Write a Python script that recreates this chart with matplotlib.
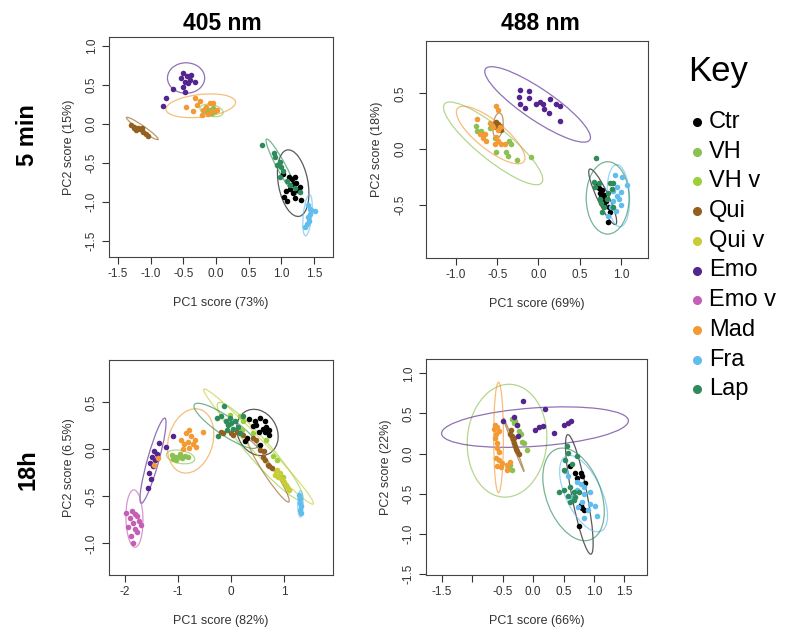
import matplotlib
matplotlib.use("Agg")
import matplotlib.pyplot as plt
from matplotlib.patches import Ellipse
from matplotlib.lines import Line2D

plt.rcParams["font.family"] = ["Liberation Sans", "DejaVu Sans"]

# groups and colours (legend order)
GROUPS = ["Ctr", "VH", "VH v", "Qui", "Qui v", "Emo", "Emo v", "Mad", "Fra", "Lap"]
COLORS = ["#000000", "#8cc152", "#9ccf3c", "#94601f", "#c9cd35",
          "#54258e", "#c45fb6", "#f39a35", "#62bdef", "#2e8b5c"]

# PC scores: group -> [(PC1, PC2), ...]
P405_5MIN = {
    "Emo": [(-0.50, 0.65), (-0.53, 0.59), (-0.45, 0.61), (-0.48, 0.54), (-0.40, 0.56),
            (-0.33, 0.54), (-0.38, 0.63), (-0.51, 0.47), (-0.48, 0.40), (-0.66, 0.44),
            (-0.76, 0.33), (-0.81, 0.23), (-0.43, 0.52)],
    "Mad": [(-0.46, 0.21), (-0.35, 0.16), (-0.30, 0.24), (-0.25, 0.29), (-0.20, 0.18),
            (-0.15, 0.22), (-0.10, 0.26), (-0.04, 0.27), (-0.07, 0.16), (-0.12, 0.13),
            (-0.22, 0.11), (0.01, 0.18), (-0.33, 0.33)],
    "VH": [(-0.15, 0.16), (-0.10, 0.18), (-0.04, 0.20), (-0.07, 0.14), (-0.17, 0.19),
           (-0.02, 0.16)],
    "Qui": [(-1.30, -0.02), (-1.25, -0.04), (-1.19, -0.05), (-1.17, -0.07), (-1.22, -0.08),
            (-1.12, -0.10), (-1.07, -0.13), (-1.14, -0.06), (-1.26, -0.06), (-1.04, -0.16)],
    "Lap": [(0.71, -0.27), (0.88, -0.37), (0.90, -0.43), (0.98, -0.49), (0.93, -0.53),
            (1.00, -0.55), (1.03, -0.61), (0.98, -0.68), (1.08, -0.73), (1.13, -0.79),
            (1.21, -0.82), (1.29, -0.87)],
    "Ctr": [(1.03, -0.64), (1.11, -0.68), (1.16, -0.71), (1.21, -0.68), (1.23, -0.76),
            (1.29, -0.81), (1.13, -0.83), (1.24, -0.85), (1.18, -0.89), (1.07, -0.86),
            (1.04, -0.94), (1.08, -0.99), (1.21, -0.95), (1.30, -0.97), (1.17, -0.77)],
    "Fra": [(1.41, -1.04), (1.46, -1.11), (1.52, -1.12), (1.44, -1.15), (1.40, -1.19),
            (1.43, -1.24), (1.39, -1.28), (1.36, -1.32), (1.44, -1.09)],
}
P488_5MIN = {
    "Emo": [(-0.22, 0.53), (-0.11, 0.52), (-0.24, 0.47), (-0.12, 0.46), (-0.22, 0.40),
            (-0.16, 0.37), (-0.03, 0.40), (0.02, 0.42), (0.06, 0.40), (0.14, 0.45),
            (0.07, 0.36), (0.13, 0.32), (0.21, 0.40), (0.26, 0.39), (0.26, 0.25)],
    "Mad": [(-0.51, 0.39), (-0.49, 0.35), (-0.74, 0.27), (-0.59, 0.23), (-0.55, 0.20),
            (-0.47, 0.20), (-0.49, 0.17), (-0.65, 0.13), (-0.71, 0.13), (-0.67, 0.10),
            (-0.64, 0.07), (-0.51, 0.11), (-0.49, 0.07), (-0.53, 0.04), (-0.45, 0.04),
            (-0.40, 0.04)],
    "VH": [(-0.76, 0.21), (-0.75, 0.16), (-0.70, 0.16), (-0.59, 0.19), (-0.53, 0.10),
           (-0.36, 0.07), (-0.33, 0.04), (-0.51, -0.03), (-0.39, -0.03), (-0.37, -0.06),
           (-0.26, -0.10), (-0.09, -0.07)],
    "Qui": [(-0.51, 0.24), (-0.49, 0.22), (-0.51, 0.20), (-0.47, 0.21), (-0.49, 0.18),
            (-0.46, 0.17)],
    "Lap": [(0.70, -0.08), (0.67, -0.30), (0.69, -0.34), (0.73, -0.31), (0.87, -0.31),
            (0.91, -0.31), (0.89, -0.36), (0.85, -0.40), (0.75, -0.45), (0.83, -0.45),
            (0.76, -0.49), (0.80, -0.52), (0.77, -0.57), (0.91, -0.52)],
    "Fra": [(0.93, -0.23), (1.02, -0.25), (1.07, -0.32), (0.95, -0.34), (0.91, -0.38),
            (1.00, -0.39), (0.95, -0.42), (0.98, -0.45), (0.91, -0.47), (1.00, -0.50),
            (0.88, -0.52), (0.94, -0.56), (0.85, -0.60)],
    "Ctr": [(0.71, -0.32), (0.74, -0.35), (0.77, -0.37), (0.75, -0.40), (0.80, -0.41),
            (0.78, -0.45), (0.82, -0.47), (0.80, -0.50), (0.86, -0.52), (0.87, -0.57),
            (0.85, -0.66), (0.76, -0.43)],
}
P405_18H = {
    "Emo v": [(-1.87, -0.66), (-1.81, -0.69), (-1.77, -0.71), (-1.91, -0.73), (-1.74, -0.76),
              (-1.84, -0.78), (-1.70, -0.80), (-1.94, -0.83), (-1.81, -0.85), (-1.77, -0.88),
              (-1.89, -0.92), (-1.84, -1.00), (-1.97, -0.68)],
    "Emo": [(-1.35, 0.07), (-1.23, 0.03), (-1.45, -0.02), (-1.40, -0.05), (-1.48, -0.08),
            (-1.43, -0.11), (-1.52, -0.14), (-1.47, -0.18), (-1.54, -0.25), (-1.50, -0.31),
            (-1.56, -0.41), (-1.09, 0.14)],
    "Mad": [(-0.79, 0.21), (-0.85, 0.17), (-0.76, 0.14), (-0.95, 0.10), (-0.89, 0.06),
            (-0.81, 0.08), (-0.72, 0.06), (-0.68, 0.10), (-0.65, 0.03), (-0.79, 0.02),
            (-0.91, 0.00), (-0.52, 0.18), (-1.37, -0.09), (-1.45, -0.17)],
    "VH": [(-1.12, -0.06), (-1.06, -0.08), (-0.99, -0.08), (-0.93, -0.09), (-0.87, -0.07),
           (-1.03, -0.11), (-1.09, -0.10), (-0.96, -0.05), (-0.81, -0.08)],
    "Lap": [(-0.13, 0.46), (-0.27, 0.33), (-0.18, 0.35), (-0.09, 0.30), (-0.05, 0.26),
            (0.01, 0.28), (0.08, 0.30), (0.14, 0.24), (0.04, 0.22), (-0.08, 0.21),
            (-0.24, 0.14), (0.17, 0.17), (-0.02, 0.33), (0.23, 0.36)],
    "Qui": [(-0.18, 0.19), (-0.15, 0.17), (0.01, 0.17), (0.04, 0.15), (0.12, 0.19),
            (0.23, 0.15), (0.42, 0.12), (0.48, 0.10), (0.55, -0.01), (0.62, -0.02),
            (0.60, -0.08), (0.64, -0.11), (0.69, -0.17), (0.72, -0.18), (0.77, -0.20)],
    "VH v": [(-0.02, 0.37), (0.17, 0.35), (0.23, 0.30), (0.20, 0.21), (0.42, 0.17),
             (0.67, 0.10), (0.80, -0.07), (0.86, -0.11), (0.99, -0.29)],
    "Qui v": [(0.86, -0.22), (0.93, -0.25), (0.89, -0.29), (0.96, -0.32), (1.00, -0.35),
              (1.03, -0.38), (1.05, -0.40), (1.09, -0.43), (0.83, -0.27)],
    "Ctr": [(0.35, 0.32), (0.45, 0.30), (0.55, 0.33), (0.64, 0.30), (0.41, 0.25),
            (0.48, 0.26), (0.60, 0.22), (0.67, 0.24), (0.72, 0.21), (0.52, 0.19),
            (0.64, 0.18), (0.72, 0.15), (0.30, 0.12), (0.26, 0.09), (0.55, 0.05)],
    "Fra": [(1.29, -0.48), (1.31, -0.53), (1.30, -0.57), (1.33, -0.60), (1.30, -0.64),
            (1.33, -0.68)],
}
P488_18H = {
    "Emo": [(-0.17, 0.65), (-0.31, 0.46), (0.20, 0.55), (-0.49, 0.40), (-0.27, 0.35),
            (-0.25, 0.22), (0.03, 0.29), (0.10, 0.33), (0.17, 0.34), (0.35, 0.26),
            (0.50, 0.35), (0.57, 0.38), (0.62, 0.41)],
    "Mad": [(-0.63, 0.36), (-0.59, 0.33), (-0.65, 0.31), (-0.57, 0.28), (-0.61, 0.24),
            (-0.63, 0.20), (-0.59, 0.13), (-0.60, 0.07), (-0.57, 0.02), (-0.61, -0.05),
            (-0.56, -0.08), (-0.52, -0.12), (-0.59, -0.15), (-0.53, -0.17), (-0.43, -0.14),
            (-0.43, -0.20), (-0.38, -0.10)],
    "Qui": [(-0.38, 0.25), (-0.35, 0.22), (-0.34, 0.18), (-0.31, 0.13), (-0.30, 0.09),
            (-0.28, 0.06), (-0.26, 0.03), (-0.24, 0.00), (-0.32, 0.20), (-0.36, 0.29)],
    "VH": [(-0.35, 0.43), (-0.30, 0.40), (-0.27, 0.36), (-0.32, 0.38), (-0.24, 0.28),
           (-0.20, 0.25), (-0.19, 0.15), (-0.15, 0.13), (-0.10, 0.04), (-0.38, -0.14),
           (-0.41, -0.17), (-0.35, -0.20)],
    "Lap": [(0.56, 0.10), (0.58, 0.01), (0.72, -0.03), (0.53, -0.08), (0.64, -0.13),
            (0.50, -0.20), (0.42, -0.48), (0.50, -0.46), (0.61, -0.42), (0.67, -0.48),
            (0.75, -0.48), (0.67, -0.58), (0.61, -0.61), (0.69, -0.54), (0.57, -0.53)],
    "Fra": [(0.53, -0.22), (0.57, -0.28), (0.72, -0.35), (0.79, -0.38), (0.84, -0.42),
            (0.72, -0.46), (0.84, -0.50), (0.93, -0.48), (0.64, -0.54), (0.80, -0.60),
            (0.93, -0.63), (1.01, -0.65), (0.73, -0.67), (0.90, -0.71), (1.05, -0.78),
            (0.84, -0.80)],
    "Ctr": [(0.61, -0.16), (0.69, -0.24), (0.79, -0.24), (0.81, -0.28), (0.72, -0.31),
            (0.86, -0.37), (0.78, -0.64), (0.80, -0.68), (0.84, -0.71), (0.76, -0.90)],
}

# group ellipses: group -> (centre PC1, centre PC2, major, minor, angle deg)
E405_5MIN = {
    "Emo": (-0.46, 0.585, 0.57, 0.39, 0), "Mad": (-0.235, 0.23, 1.07, 0.29, 5),
    "VH": (-0.07, 0.17, 0.36, 0.15, -10), "Qui": (-1.13, -0.06, 0.56, 0.07, -30),
    "Lap": (1.00, -0.55, 0.84, 0.13, -57), "Ctr": (1.18, -0.76, 0.87, 0.45, 103.5),
    "Fra": (1.40, -1.17, 0.53, 0.13, 83),
}
E488_5MIN = {
    "Emo": (-0.01, 0.40, 1.42, 0.30, -26), "Mad": (-0.58, 0.125, 0.94, 0.28, -29),
    "VH": (-0.55, 0.05, 1.38, 0.32, -30), "Qui": (-0.49, 0.21, 0.23, 0.12, 80),
    "Ctr": (0.78, -0.43, 0.59, 0.13, 123), "Lap": (0.84, -0.44, 0.52, 0.65, 0),
    "Fra": (0.97, -0.42, 0.56, 0.27, 95),
}
E405_18H = {
    "Emo v": (-1.82, -0.735, 0.61, 0.32, 93), "Emo": (-1.47, -0.12, 1.01, 0.20, 63),
    "Mad": (-0.76, 0.09, 0.90, 0.65, 20), "VH": (-0.95, -0.08, 0.535, 0.14, -5),
    "Ctr": (0.50, 0.18, 0.79, 0.48, -10), "Lap": (-0.10, 0.25, 1.27, 0.22, -20),
    "Qui": (0.71, -0.23, 1.01, 0.15, -40), "Qui v": (0.52, 0.03, 2.40, 0.18, -30.4),
    "VH v": (0.55, -0.02, 1.90, 0.30, -32), "Fra": (1.31, -0.58, 0.28, 0.10, 90),
}
E488_18H = {
    "Emo": (0.03, 0.33, 3.08, 0.48, 3), "Mad": (-0.57, 0.20, 1.38, 0.16, 90),
    "Qui": (-0.32, 0.11, 0.75, 0.03, 117), "VH": (-0.43, 0.16, 1.42, 1.30, 72),
    "Ctr": (0.76, -0.51, 1.54, 0.25, 104.5), "Lap": (0.665, -0.51, 1.28, 0.85, 125),
    "Fra": (0.83, -0.50, 1.11, 0.55, 126),
}

PC1_VAR = ["73%", "69%", "82%", "66%"]
PC2_VAR = ["15%", "18%", "6.5%", "22%"]

W, H = 793, 636
fig = plt.figure(figsize=(W / 100, H / 100), dpi=100)


def box(l, t, r, b):
    return [l / W, 1 - b / H, (r - l) / W, (b - t) / H]


panels = [
    (box(109, 37, 333, 257), P405_5MIN, E405_5MIN, (-1.64, 1.79), (-1.705, 1.11),
     [-1.5, -1.0, -0.5, 0.0, 0.5, 1.0, 1.5], None,
     [-1.5, -1.0, -0.5, 0.0, 0.5, 1.0], 3),
    (box(426, 41, 648, 258), P488_5MIN, E488_5MIN, (-1.365, 1.33), (-0.98, 0.97),
     [-1.0, -0.5, 0.0, 0.5, 1.0], None, [-0.5, 0.0, 0.5], 9),
    (box(109, 360, 333, 575), P405_18H, E405_18H, (-2.30, 1.925), (-1.335, 0.95),
     [-2, -1, 0, 1], ["-2", "-1", "0", "1"], [-1.0, -0.5, 0.0, 0.5], 3),
    (box(426, 359, 647, 575), P488_18H, E488_18H, (-1.764, 1.874), (-1.516, 1.18),
     [-1.5, -1.0, -0.5, 0.0, 0.5, 1.0, 1.5],
     ["-1.5", "", "-0.5", "0.0", "0.5", "1.0", "1.5"],
     [-1.5, -1.0, -0.5, 0.0, 0.5, 1.0], 3),
]

for i, (pos, pts, ells, xl, yl, xt, xtl, yt, ypad) in enumerate(panels):
    ax = fig.add_axes(pos)
    for g, c in zip(GROUPS, COLORS):
        if g in ells:
            cx, cy, a, b, ang = ells[g]
            ax.add_patch(Ellipse((cx, cy), a, b, angle=ang, fill=False,
                                 ec=c, lw=0.9, alpha=0.65))
    for g, c in zip(GROUPS, COLORS):
        if g in pts:
            ax.scatter([p[0] for p in pts[g]], [p[1] for p in pts[g]],
                       s=16, color=c, linewidths=0, zorder=3)
    ax.set_xlim(*xl); ax.set_ylim(*yl)
    ax.set_xticks(xt)
    if xtl is None:
        xtl = [f"{v:.1f}" for v in xt]
    ax.set_xticklabels(xtl)
    ax.set_yticks(yt)
    ax.set_yticklabels([f"{v:.1f}" for v in yt], rotation=90, va="center")
    ax.tick_params(direction="out", length=5, width=0.8, labelsize=8.5,
                   colors="#333333", labelcolor="#333333", pad=3)
    ax.tick_params(axis="y", pad=ypad)
    for s in ax.spines.values():
        s.set_linewidth(0.8); s.set_color("#444444")
    ax.set_xlabel(f"PC1 score ({PC1_VAR[i]})", fontsize=9, color="#333333", labelpad=12)
    ax.set_ylabel(f"PC2 score ({PC2_VAR[i]})", fontsize=9, color="#333333", labelpad=8)

fig.text(222 / W, 1 - 23 / H, "405 nm", ha="center", va="center",
         fontsize=16.5, fontweight="bold")
fig.text(540 / W, 1 - 23 / H, "488 nm", ha="center", va="center",
         fontsize=16.5, fontweight="bold")
fig.text(28 / W, 1 - 135 / H, "5 min", ha="center", va="center", rotation=90,
         fontsize=17, fontweight="bold")
fig.text(28 / W, 1 - 470 / H, "18h", ha="center", va="center", rotation=90,
         fontsize=17, fontweight="bold")

# key
fig.text(688 / W, 1 - 72 / H, "Key", ha="left", va="center", fontsize=25)
for k, (g, c) in enumerate(zip(GROUPS, COLORS)):
    yk = 1 - (122 + 29.7 * k) / H
    fig.add_artist(Line2D([697 / W], [yk], transform=fig.transFigure, ls="",
                          marker="o", ms=5.5, mfc=c, mec=c))
    fig.text(709 / W, yk, g, ha="left", va="center", fontsize=17)

fig.savefig("out.png", dpi=100)
